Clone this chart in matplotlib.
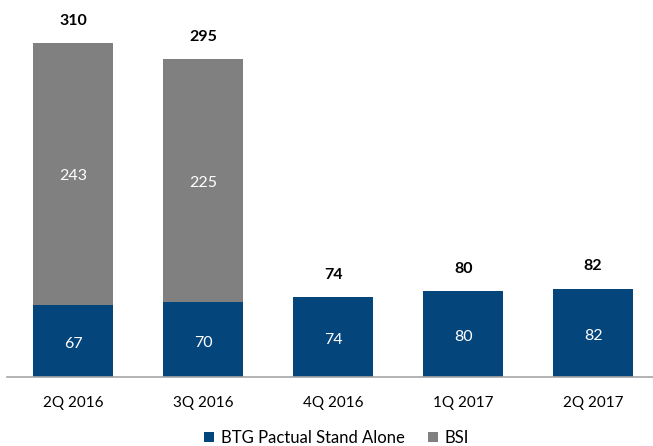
import numpy as np
import matplotlib.pyplot as plt

plt.rcParams['font.family'] = ['Lato', 'DejaVu Sans']

quarters = ["2Q 2016", "3Q 2016", "4Q 2016", "1Q 2017", "2Q 2017"]
btg = [67, 70, 74, 80, 82]
bsi = [243, 225, 0, 0, 0]
totals = [310, 295, 74, 80, 82]

blue = "#04457c"
gray = "#808080"

fig = plt.figure(figsize=(6.53, 4.46), dpi=100)
ax = fig.add_axes([7 / 653, 69 / 446, 646 / 653, 357 / 446])

x = np.arange(len(quarters))
w = 0.62
b1 = ax.bar(x, btg, w, color=blue, label="BTG Pactual Stand Alone")
b2 = ax.bar(x, bsi, w, bottom=btg, color=gray, label="BSI")

for i in range(len(quarters)):
    ax.text(x[i], btg[i] / 2 - 3, str(btg[i]), ha="center", va="center",
            color="white", fontsize=11.5)
    if bsi[i] > 0:
        ax.text(x[i], btg[i] + bsi[i] / 2 - 2, str(bsi[i]), ha="center",
                va="center", color="white", fontsize=11.5)
    ax.annotate(str(totals[i]), (x[i], totals[i]), xytext=(0, 11),
                textcoords="offset points", ha="center", va="bottom",
                fontsize=11.5, fontweight="bold")

ax.set_xlim(-0.508, 4.46)
ax.set_ylim(0, 331.5)
ax.set_xticks(x)
ax.set_xticklabels(quarters, fontsize=11)
ax.tick_params(axis="x", length=0, pad=14)
ax.set_yticks([])
for s in ["top", "right", "left"]:
    ax.spines[s].set_visible(False)
ax.spines["bottom"].set_color("#a6a6a6")
ax.spines["bottom"].set_linewidth(1.2)

fig.legend(handles=[b1, b2], loc="center", bbox_to_anchor=(0.515, 0.018),
           ncol=2, frameon=False, fontsize=12, handlelength=0.6,
           handleheight=0.6, handletextpad=0.4, columnspacing=1.4,
           borderpad=0)

fig.savefig("out.png", dpi=100)
